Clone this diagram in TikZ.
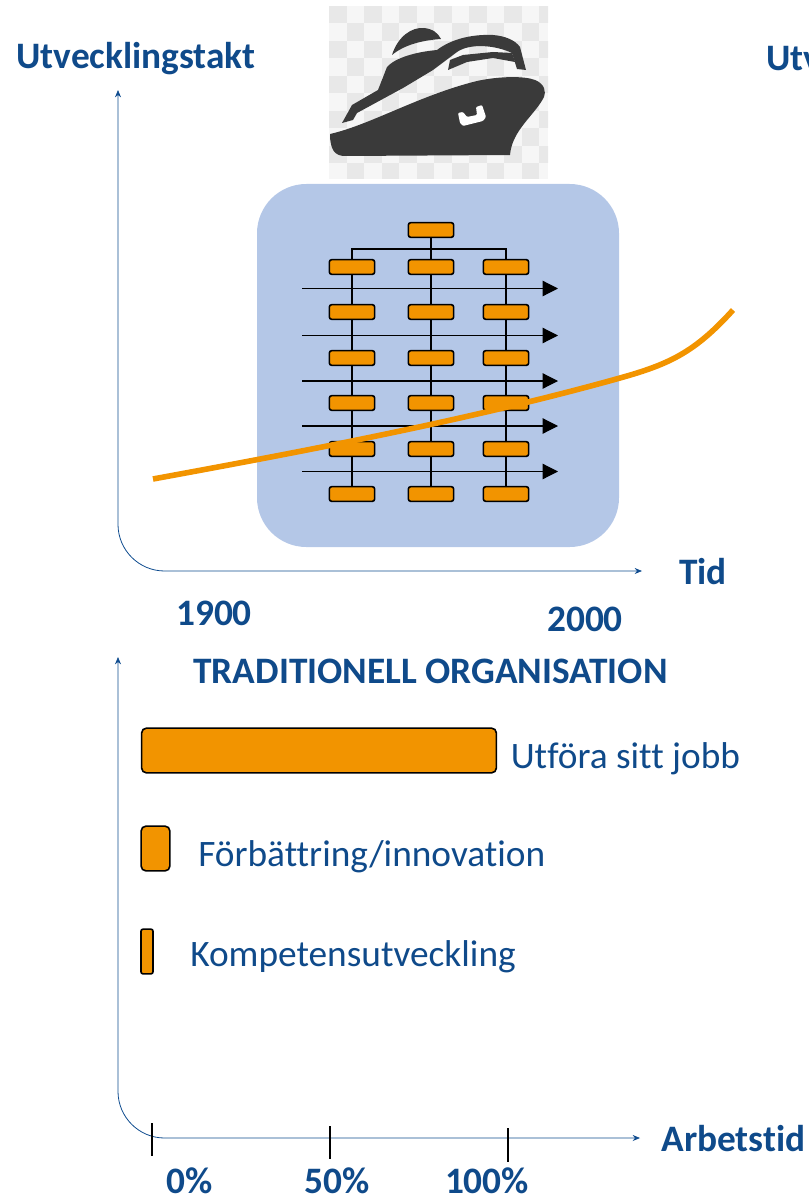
\documentclass[tikz,border=0pt]{standalone}
\usepackage{fontspec}
\setmainfont[Ligatures=NoCommon]{Carlito}
\usetikzlibrary{calc}
\usetikzlibrary{arrows.meta}
\definecolor{axisblue}{HTML}{0F4C8F}
\definecolor{titleblue}{HTML}{0F4A8A}
\definecolor{panelblue}{HTML}{B4C7E7}
\definecolor{barorange}{HTML}{F29400}
\definecolor{shipgray}{HTML}{3A3A3A}
\definecolor{checkgray}{HTML}{E8E8E8}
\definecolor{checklight}{HTML}{F6F6F6}
\tikzset{
    axisline/.style={axisblue, line width=0.6pt, rounded corners=35pt, {Stealth[length=5.5pt,width=4.5pt]}-{Stealth[length=5.5pt,width=4.5pt]}},
    heading/.style={text=titleblue, inner sep=0pt, font=\bfseries\fontsize{28}{32}\selectfont},
    barlabel/.style={text=titleblue, inner sep=0pt, font=\fontsize{28}{32}\selectfont, anchor=west},
    orgbox/.style={draw=black, fill=barorange, line width=1.2pt, rounded corners=1.8pt, minimum width=34pt, minimum height=11pt, inner sep=0pt},
    barbox/.style={draw=black, fill=barorange, line width=1.2pt, rounded corners=3.5pt, inner sep=0pt},
    orgline/.style={black, line width=1.1pt},
    flowarrow/.style={black, line width=0.9pt, -{Triangle[length=11.5pt,width=11.5pt]}},
    tickmark/.style={black, line width=1pt}
}
\begin{document}
\begin{tikzpicture}[x=0.75pt,y=-0.75pt]
    \useasboundingbox (0,0) rectangle (808,1198);

    % ship picture
    \fill[checklight] (329,6) rectangle (548,179);
    \begin{scope}
        \clip (329,6) rectangle (548,179);
        \foreach \i in {0,...,12} {
            \foreach \j in {0,...,10} {
                \pgfmathparse{int(mod(\i+\j,2))}
                \ifnum\pgfmathresult=0
                    \fill[checkgray] (329+\i*17.5,6+\j*17.5) rectangle ++(17.5,17.5);
                \fi
            }
        }
    \end{scope}
    \fill[shipgray] (392,55) .. controls (398,36) and (412,27) .. (424,28) .. controls (433,29) and (438,33) .. (441,39) .. controls (425,40) and (405,44) .. (392,55) -- cycle;
    \fill[shipgray] (342,123) -- (352,105) -- (378,90) -- (387,67) .. controls (395,58) and (415,52) .. (437,50) .. controls (450,40) and (470,34) .. (493,35) .. controls (505,36) and (515,40) .. (520,47) -- (526,70) -- (517,69) -- (512,53) .. controls (495,45) and (470,43) .. (457,52) -- (433,70) -- (403,88) -- (357,113) -- (353,120) -- cycle;
    \fill[shipgray] (448,70) -- (450,60) -- (463,55) -- (493,52) -- (512,53) -- (515,62) -- (493,58) -- (467,62) -- cycle;
    \fill[shipgray] (330,134) .. controls (370,125) and (420,95) .. (477,81) .. controls (500,76) and (525,76) .. (535,80) .. controls (545,84) and (546,92) .. (544,97) .. controls (535,115) and (512,130) .. (510,155) -- (345,156) .. controls (335,156) and (330,150) .. (330,134) -- cycle;
    \fill[white, rounded corners=0.8pt] (458,113) -- (463,112) -- (467,117) -- (477,115) -- (476,107) -- (482,105) -- (486,117) -- (483,121) -- (463,126) -- (460,123) -- cycle;

    % panel
    \fill[panelblue, rounded corners=37pt] (257,184) rectangle (619,547);

    % organisation
    \node[orgbox] (top) at (431,230) {};
    \foreach \c/\x in {1/352,2/431,3/506} {
        \foreach \r/\y in {1/267,2/312,3/358,4/403,5/449,6/494} {
            \node[orgbox] (c\c r\r) at (\x,\y) {};
        }
        \draw[orgline] (c\c r1) -- (c\c r2);
        \draw[orgline] (c\c r2) -- (c\c r3);
        \draw[orgline] (c\c r3) -- (c\c r4);
        \draw[orgline] (c\c r4) -- (c\c r5);
        \draw[orgline] (c\c r5) -- (c\c r6);
    }
    \coordinate (branch) at (431,249);
    \draw[orgline] (top) -- (c2r1);
    \draw[orgline] (c1r1) |- (branch) -| (c3r1);
    \foreach \a/\y in {1/288.5,2/335.5,3/381,4/426,5/471.5} {
        \coordinate (from\a) at (302,\y);
        \coordinate (to\a) at (558,\y);
        \draw[flowarrow] (from\a) -- (to\a);
    }

    % curve
    \draw[barorange, line width=4.2pt] (153,479) .. controls (300,452) and (470,420) .. (620,378) .. controls (670,364) and (695,352) .. (733,310);

    % axes, top
    \coordinate (topaxisy) at (118,90);
    \coordinate (topaxisx) at (642,571);
    \draw[axisline] (topaxisy) |- (topaxisx);
    \node[heading] (ylabel) at (136,59) {Utvecklingstakt};
    \node[heading, anchor=west] (ylabelcut) at (766,59) {Utv};
    \node[heading] (tid) at (703,572) {Tid};
    \node[heading] (y1900) at (214,613) {1900};
    \node[heading] (y2000) at (585,619) {2000};
    \node[heading] (title) at (430.5,671) {TRADITIONELL ORGANISATION};

    % axes, bottom
    \coordinate (lowaxisy) at (118,657);
    \coordinate (lowaxisx) at (640,1138);
    \draw[axisline] (lowaxisy) |- (lowaxisx);
    \draw[tickmark] (152,1123) -- (152,1156);
    \draw[tickmark] (330,1126) -- (330,1159);
    \draw[tickmark] (508,1128) -- (508,1162);
    \node[heading] (arbetstid) at (733.5,1139) {Arbetstid};
    \node[heading] (p0) at (190,1181) {0\%};
    \node[heading] (p50) at (337,1181) {50\%};
    \node[heading] (p100) at (487,1181) {100\%};

    % bars
    \node[barbox, minimum width=266pt, minimum height=33.5pt] (bar1) at (319,750.5) {};
    \node[barbox, minimum width=21.5pt, minimum height=33.5pt] (bar2) at (155.5,848.5) {};
    \node[barbox, rounded corners=1.5pt, minimum width=9pt, minimum height=33.5pt] (bar3) at (147,951.5) {};
    \node[barlabel] (job) at (510.5,759) {Utföra sitt jobb};
    \node[barlabel] (forb) at (198,857) {Förbättring/innovation};
    \node[barlabel] (komp) at (190,957) {Kompetensutveckling};
\end{tikzpicture}
\end{document}
